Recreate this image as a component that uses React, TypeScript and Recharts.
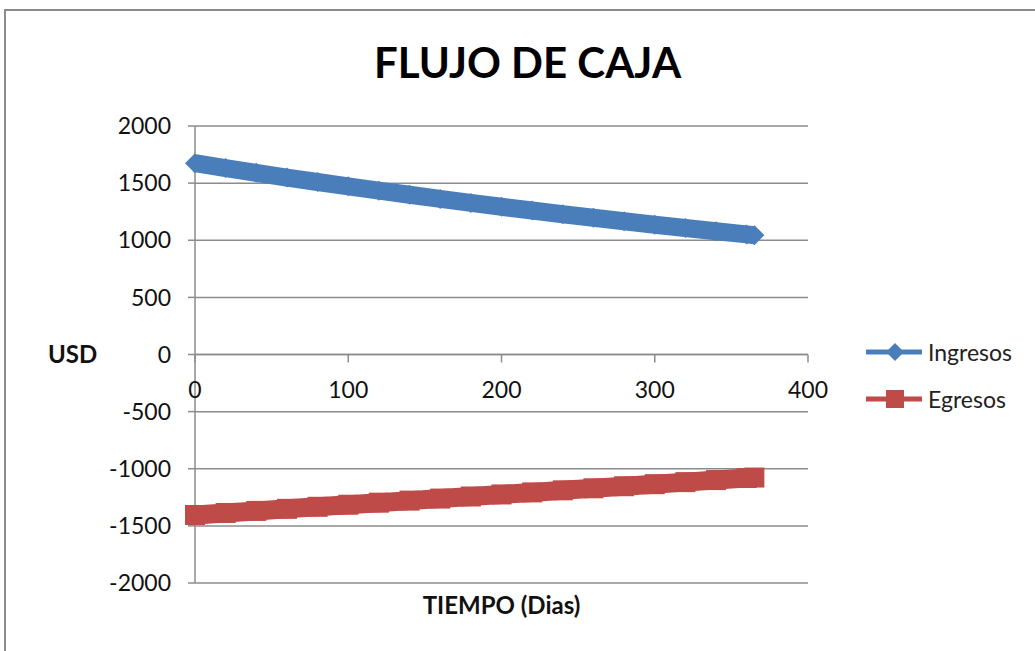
// Flujo de caja: ingresos vs egresos over a year (scatter with lines, Excel style)
import { LineChart, Line, XAxis, YAxis, CartesianGrid, ReferenceLine, ReferenceDot, Legend } from 'recharts';

const days = [0, 20, 40, 60, 80, 100, 120, 140, 160, 180, 200, 220, 240, 260, 280, 300, 320, 340, 360, 365];
const ingresos = [1675, 1632, 1590, 1549, 1510, 1472, 1434, 1398, 1362, 1327, 1293, 1260, 1228, 1197, 1166, 1136, 1107, 1079, 1051, 1044];
const egresos = [-1405, -1387, -1369, -1351, -1333, -1315, -1297, -1279, -1261, -1243, -1225, -1207, -1189, -1171, -1153, -1135, -1117, -1099, -1081, -1077];
const seriesNames = ['Ingresos', 'Egresos'];
const xTicks = [0, 100, 200, 300, 400];
const yTicks = [-2000, -1500, -1000, -500, 0, 500, 1000, 1500, 2000];

const BLUE = '#4A7EBB';
const RED = '#BE4B48';
const AXIS = '#8c8c8c';
const FONT = 'Lato, "Open Sans", sans-serif';

const ingresosData = days.map((day, i) => ({ day, value: ingresos[i] }));
const egresosData = days.map((day, i) => ({ day, value: egresos[i] }));

const diamond = (props: any) => {
  const { cx, cy, index } = props;
  const s = 10;
  return (
    <polygon
      key={`d-${index}`}
      points={`${cx - s},${cy} ${cx},${cy - s} ${cx + s},${cy} ${cx},${cy + s}`}
      fill={BLUE}
    />
  );
};

const square = (props: any) => {
  const { cx, cy, index } = props;
  const s = 10;
  return <rect key={`s-${index}`} x={cx - s} y={cy - s} width={s * 2} height={s * 2} fill={RED} />;
};

// x tick marks + labels sit on the zero line, like Excel's crossing axis
const zeroTick = (label: number) => (props: any) => {
  const { cx, cy } = props;
  return (
    <g>
      <line x1={cx} y1={cy} x2={cx} y2={cy + 8} stroke={AXIS} strokeWidth={1.5} />
      <text x={cx} y={cy + 43} textAnchor="middle" fontSize={23} fontFamily={FONT} fill="#111">
        {label}
      </text>
    </g>
  );
};

const LegendContent = (props: any) => {
  const payload = [...(props.payload || [])].sort(
    (a: any, b: any) => seriesNames.indexOf(a.value) - seriesNames.indexOf(b.value)
  );
  return (
    <div style={{ fontFamily: FONT }}>
      {payload.map((entry: any) => (
        <div key={entry.value} style={{ display: 'flex', alignItems: 'center', height: 47 }}>
          <svg width={58} height={24}>
            <line x1={0} y1={12} x2={56} y2={12} stroke={entry.color} strokeWidth={5} />
            {entry.type === 'diamond' ? (
              <polygon points="20,12 29,3 38,12 29,21" fill={entry.color} />
            ) : (
              <rect x={20} y={3} width={18} height={18} fill={entry.color} />
            )}
          </svg>
          <span style={{ fontSize: 23, color: '#222', marginLeft: 4 }}>{entry.value}</span>
        </div>
      ))}
    </div>
  );
};

export default function App() {
  return (
    <div style={{ position: 'absolute', left: 0, top: 0, width: 1035, height: 651, overflow: 'hidden', background: '#fff' }}>
      <div
        style={{
          position: 'absolute',
          left: 4,
          top: 9,
          width: 1100,
          height: 700,
          borderLeft: `2px solid ${AXIS}`,
          borderTop: `2px solid ${AXIS}`,
        }}
      />
      <div
        style={{
          position: 'absolute',
          left: 0,
          top: 37,
          width: 1055,
          textAlign: 'center',
          fontFamily: FONT,
          fontWeight: 700,
          fontSize: 42,
          color: '#000',
        }}
      >
        FLUJO DE CAJA
      </div>
      <LineChart width={1035} height={651} margin={{ top: 126, right: 227, bottom: 28, left: 0 }}>
        <CartesianGrid vertical={false} stroke={AXIS} strokeWidth={1.5} />
        <XAxis
          dataKey="day"
          type="number"
          domain={[0, 400]}
          ticks={xTicks}
          tick={false}
          tickLine={false}
          axisLine={false}
          height={40}
          label={{
            value: 'TIEMPO (Dias)',
            position: 'insideBottom',
            offset: 9,
            style: { fontFamily: FONT, fontWeight: 700, fontSize: 24, fill: '#111' },
          }}
        />
        <YAxis
          type="number"
          domain={[-2000, 2000]}
          ticks={yTicks}
          width={195}
          tickSize={7}
          tickMargin={17}
          axisLine={{ stroke: AXIS, strokeWidth: 1.5 }}
          tickLine={{ stroke: AXIS, strokeWidth: 1.5 }}
          tick={{ fontSize: 23, fontFamily: FONT, fill: '#111' }}
          label={{
            value: 'USD',
            position: 'insideLeft',
            offset: 48,
            style: { fontFamily: FONT, fontWeight: 700, fontSize: 24, fill: '#111' },
          }}
        />
        <ReferenceLine y={0} stroke={AXIS} strokeWidth={1.5} />
        {xTicks.map((t) => (
          <ReferenceDot key={t} x={t} y={0} r={0} shape={zeroTick(t)} ifOverflow="visible" />
        ))}
        <Line
          data={ingresosData}
          dataKey="value"
          name={seriesNames[0]}
          type="linear"
          stroke={BLUE}
          strokeWidth={18}
          dot={diamond}
          activeDot={false}
          legendType="diamond"
          isAnimationActive={false}
        />
        <Line
          data={egresosData}
          dataKey="value"
          name={seriesNames[1]}
          type="linear"
          stroke={RED}
          strokeWidth={19}
          dot={square}
          activeDot={false}
          legendType="square"
          isAnimationActive={false}
        />
        <Legend
          layout="vertical"
          align="center"
          verticalAlign="middle"
          content={<LegendContent />}
          wrapperStyle={{ left: 866, top: 328, width: 170 }}
        />
      </LineChart>
    </div>
  );
}
